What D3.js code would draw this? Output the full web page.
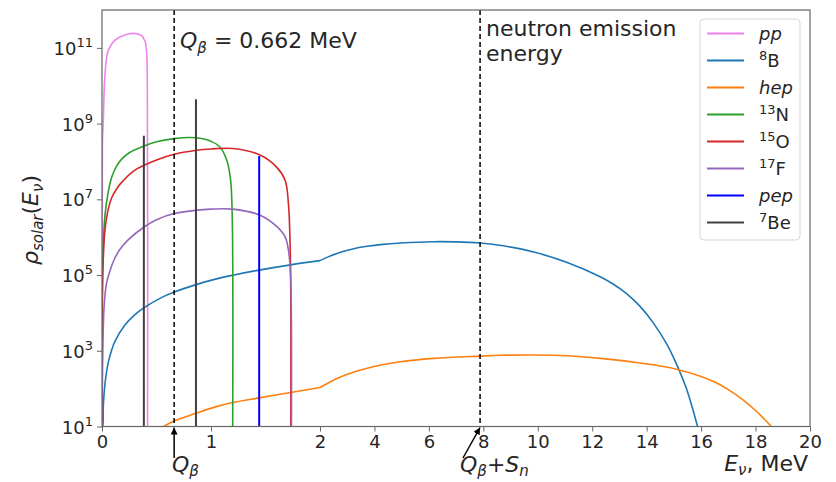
<!DOCTYPE html>
<html><head><meta charset="utf-8">
<script src="https://cdn.jsdelivr.net/npm/d3@7"></script>
<style>
body{margin:0;background:#fff}
text{font-family:"DejaVu Sans",sans-serif;fill:#262626}
</style>
</head><body>
<svg id="c" width="836" height="482"></svg>
<script>
// ---- data ----
const xTicks = [0,1,2,4,6,8,10,12,14,16,18,20];
const yTicks = [1e1,1e3,1e5,1e7,1e9,1e11];
const yTickExp = ["1","3","5","7","9","11"];

const pp = [[0,10],[0.004,3e8],[0.012,1.2e9],[0.028,2.1e10],[0.058,8.7e10],[0.12,1.6e11],[0.21,2.2e11],[0.30,2.4e11],[0.364,2.1e11],[0.396,1.45e11],[0.41,7e10],[0.416,1e10],[0.418,10]];
const B8 = [[0,10],[0.006,10],[0.012,35],[0.028,140],[0.058,500],[0.089,1050],[0.12,1800],[0.21,4800],[0.30,8900],[0.387,1.38e4],[0.55,2.57e4],[0.663,3.55e4],[0.856,5.5e4],[1.04,7.8e4],[1.2,9.9e4],[1.44,1.35e5],[1.73,1.86e5],[2.0,2.4e5],[2.3,3.02e5],[2.75,3.98e5],[3.2,4.9e5],[3.73,5.75e5],[4.3,6.46e5],[4.95,7.0e5],[6.17,7.6e5],[7.0,7.5e5],[7.88,7.0e5],[8.6,6.1e5],[9.85,4.07e5],[11.08,2.14e5],[12.31,8.9e4],[12.75,5.9e4],[13.25,3.3e4],[13.75,1.51e4],[14.25,5370],[14.75,1450],[15.0,631],[15.25,245],[15.5,83],[15.87,10]];
const hep = [[0.565,10],[0.662,14],[0.855,22],[1.04,33],[1.2,43],[1.44,57],[1.73,79],[2.0,107],[2.75,204],[3.73,347],[4.95,513],[6.17,631],[7.88,724],[8.6,759],[9.85,776],[11.08,741],[12.31,631],[13.52,501],[14.3,419],[15.13,321],[16.0,210],[16.5,149],[17.0,94],[17.5,53],[18.0,26.5],[18.3,16.3],[18.58,10]];
const N13 = [[0,10],[0.003,3.2e4],[0.01,5e5],[0.028,4e6],[0.058,1.6e7],[0.089,3.8e7],[0.13,7.2e7],[0.18,1.15e8],[0.25,1.7e8],[0.386,2.57e8],[0.5,3.3e8],[0.662,4.0e8],[0.8,4.3e8],[0.9,4.1e8],[1.0,3.4e8],[1.08,2.45e8],[1.145,1.07e8],[1.18,3.2e7],[1.195,3.2e6],[1.199,10]];
const O15 = [[0,10],[0.003,2e4],[0.01,2e5],[0.028,1.6e6],[0.058,5.6e6],[0.089,1.1e7],[0.135,1.9e7],[0.18,2.8e7],[0.286,5.5e7],[0.386,7.9e7],[0.5,1.1e8],[0.662,1.55e8],[0.855,1.95e8],[1.0,2.14e8],[1.2,2.2e8],[1.45,1.48e8],[1.6,7.2e7],[1.68,3.2e7],[1.71,7.9e6],[1.728,3.2e5],[1.732,10]];
const F17 = [[0,10],[0.005,316],[0.02,1.6e4],[0.043,6.3e4],[0.08,1.48e5],[0.11,2.5e5],[0.16,4.6e5],[0.24,8.5e5],[0.386,1.86e6],[0.5,2.9e6],[0.662,4.2e6],[0.855,5.1e6],[1.0,5.5e6],[1.2,5.5e6],[1.45,3.8e6],[1.6,1.95e6],[1.68,1.02e6],[1.71,4.6e5],[1.73,1e5],[1.738,10]];
const pepLines = [[1.442,1.4e8]];
const be7Lines = [[0.384,4.8e8],[0.862,4.4e9]];
const Qbeta = 0.662;
const QbSn = 7.88;

const series = [
  {label:"pp", data:pp, color:"violet", type:"curve"},
  {label:"8B", data:B8, color:"#1f77b4", type:"curve"},
  {label:"hep", data:hep, color:"#ff7f0e", type:"curve"},
  {label:"13N", data:N13, color:"#2ca02c", type:"curve"},
  {label:"15O", data:O15, color:"#d62728", type:"curve"},
  {label:"17F", data:F17, color:"#9467bd", type:"curve"},
  {label:"pep", data:pepLines, color:"#0000ff", type:"lines"},
  {label:"7Be", data:be7Lines, color:"#404040", type:"lines"}
];

// ---- layout ----
const L=102, R=810, T=10, B=426.5, BREAK=2;
const svg = d3.select("#c");
const x = d3.scaleLinear().domain([0,BREAK,20]).range([L,320,R]);
const y = d3.scaleLog().domain([10,1e12]).range([B,T]);

svg.append("defs").append("clipPath").attr("id","clip")
  .append("rect").attr("x",L).attr("y",T).attr("width",R-L).attr("height",B-T);
svg.select("defs").append("marker").attr("id","arr").attr("viewBox","0 0 10 10")
  .attr("refX",10).attr("refY",5).attr("markerWidth",7).attr("markerHeight",7)
  .attr("orient","auto").attr("markerUnits","userSpaceOnUse")
  .append("path").attr("d","M0,0 L10,5 L0,10 z").attr("fill","#000");

const g = svg.append("g").attr("clip-path","url(#clip)");
const line = d3.line().x(d=>x(d[0])).y(d=>y(d[1])).curve(d3.curveCatmullRom.alpha(0.5));

series.forEach(s=>{
  if(s.type==="curve"){
    // the x scale changes slope at E=2, so draw each side separately
    const parts = [s.data.filter(d=>d[0]<=BREAK), s.data.filter(d=>d[0]>=BREAK)].filter(p=>p.length>1);
    parts.forEach(p=>{
      g.append("path").attr("d",line(p)).attr("fill","none")
        .attr("stroke",s.color).attr("stroke-width",1.6);
    });
  } else {
    s.data.forEach(d=>{
      g.append("line").attr("x1",x(d[0])).attr("x2",x(d[0]))
        .attr("y1",y(10)).attr("y2",y(d[1]))
        .attr("stroke",s.color).attr("stroke-width",2);
    });
  }
});

// dashed lines
[Qbeta,QbSn].forEach(v=>{
  svg.append("line").attr("x1",x(v)).attr("x2",x(v)).attr("y1",T).attr("y2",B)
    .attr("stroke","#000").attr("stroke-width",1.5).attr("stroke-dasharray","5,3");
});

// frame
svg.append("rect").attr("x",L).attr("y",T).attr("width",R-L).attr("height",B-T)
  .attr("fill","none").attr("stroke","#666").attr("stroke-width",1.2);

// axes
const xa = svg.append("g").attr("transform",`translate(0,${B})`)
  .call(d3.axisBottom(x).tickValues(xTicks).tickSize(5).tickPadding(4).tickFormat(d3.format("d")));
xa.select(".domain").remove();
xa.selectAll("line").attr("stroke","#666");
xa.selectAll("text").attr("font-size",18).attr("font-family","DejaVu Sans").attr("fill","#262626");

const ya = svg.append("g").attr("transform",`translate(${L},0)`)
  .call(d3.axisLeft(y).tickValues(yTicks).tickSize(5).tickFormat(""));
ya.select(".domain").remove();
ya.selectAll("line").attr("stroke","#666");
yTicks.forEach((v,i)=>{
  const t = svg.append("text").attr("x",93).attr("y",y(v)+7).attr("text-anchor","end").attr("font-size",18);
  t.append("tspan").text("10");
  t.append("tspan").attr("font-size",13).attr("dy",-8).text(yTickExp[i]);
});

function rich(sel, parts){
  parts.forEach(p=>{
    const ts = sel.append("tspan").text(p.t);
    if(p.i) ts.attr("font-style","italic");
    if(p.s) ts.attr("font-size",p.s);
    if(p.dy) ts.attr("dy",p.dy);
  });
}

// y label
const yl = svg.append("text").attr("transform","translate(38,220) rotate(-90)")
  .attr("text-anchor","middle").attr("font-size",22);
rich(yl,[{t:"ρ",i:1},{t:"solar",i:1,s:15,dy:5},{t:"(",dy:-5},{t:"E",i:1},{t:"ν",i:1,s:15,dy:5},{t:")",dy:-5}]);

// x label
const xl = svg.append("text").attr("x",808).attr("y",471).attr("text-anchor","end").attr("font-size",22);
rich(xl,[{t:"E",i:1},{t:"ν",i:1,s:15,dy:4},{t:", MeV",dy:-4}]);

// annotations
const qt = svg.append("text").attr("x",180).attr("y",48).attr("font-size",22);
rich(qt,[{t:"Q",i:1},{t:"β",i:1,s:15,dy:5},{t:" = 0.662 MeV",dy:-5}]);

svg.append("text").attr("x",486).attr("y",36).attr("font-size",22).text("neutron emission");
svg.append("text").attr("x",486).attr("y",61).attr("font-size",22).text("energy");

svg.append("line").attr("x1",x(Qbeta)).attr("y1",458).attr("x2",x(Qbeta)).attr("y2",B+1)
  .attr("stroke","#000").attr("stroke-width",1.5).attr("marker-end","url(#arr)");
const qb = svg.append("text").attr("x",172).attr("y",472).attr("font-size",22);
rich(qb,[{t:"Q",i:1},{t:"β",i:1,s:15,dy:4}]);

svg.append("line").attr("x1",463).attr("y1",458).attr("x2",x(QbSn)).attr("y2",B+1)
  .attr("stroke","#000").attr("stroke-width",1.5).attr("marker-end","url(#arr)");
const qs = svg.append("text").attr("x",460).attr("y",472).attr("font-size",22);
rich(qs,[{t:"Q",i:1},{t:"β",i:1,s:15,dy:4},{t:"+",dy:-4},{t:"S",i:1},{t:"n",i:1,s:15,dy:4}]);

// legend
const lg = svg.append("g");
lg.append("rect").attr("x",700).attr("y",19).attr("width",100).attr("height",221).attr("rx",4)
  .attr("fill","#fff").attr("fill-opacity",0.8).attr("stroke","#d6d6d6");
const legendLabels = [
  [{t:"pp",i:1}],
  [{t:"8",s:13,dy:-7},{t:"B",dy:7}],
  [{t:"hep",i:1}],
  [{t:"13",s:13,dy:-7},{t:"N",dy:7}],
  [{t:"15",s:13,dy:-7},{t:"O",dy:7}],
  [{t:"17",s:13,dy:-7},{t:"F",dy:7}],
  [{t:"pep",i:1}],
  [{t:"7",s:13,dy:-7},{t:"Be",dy:7}]
];
series.forEach((s,i)=>{
  const yy = 33.5 + i*27;
  lg.append("line").attr("x1",707).attr("x2",744).attr("y1",yy).attr("y2",yy)
    .attr("stroke",s.color).attr("stroke-width",2);
  const t = lg.append("text").attr("x",759).attr("y",yy+6.5).attr("font-size",18);
  rich(t, legendLabels[i]);
});
</script>
</body></html>
